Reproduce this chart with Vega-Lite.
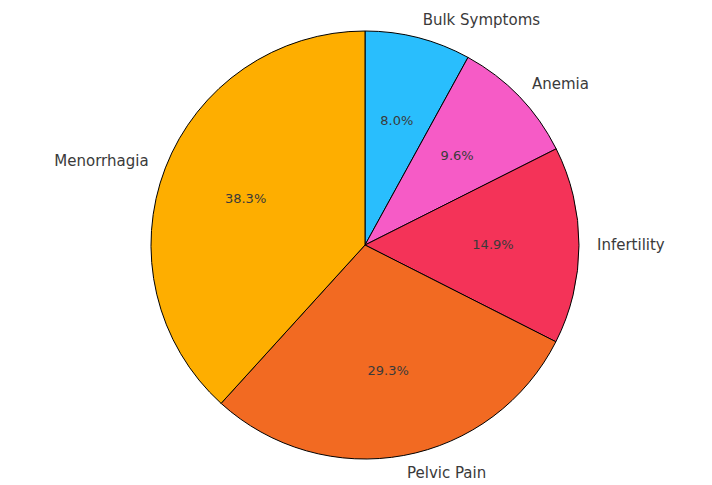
{
  "$schema": "https://vega.github.io/schema/vega-lite/v6.json",
  "width": 712,
  "height": 485,
  "autosize": {"type": "fit", "contains": "padding"},
  "padding": {"left": 18, "top": 5, "right": 0, "bottom": 0},
  "background": "white",
  "view": {"stroke": null},
  "data": {
    "values": [
      {"symptom": "Bulk Symptoms", "share": 0.080, "rank": 1},
      {"symptom": "Anemia", "share": 0.096, "rank": 2},
      {"symptom": "Infertility", "share": 0.149, "rank": 3},
      {"symptom": "Pelvic Pain", "share": 0.293, "rank": 4},
      {"symptom": "Menorrhagia", "share": 0.383, "rank": 5}
    ]
  },
  "encoding": {
    "theta": {"field": "share", "type": "quantitative", "stack": true},
    "order": {"field": "rank", "type": "quantitative"}
  },
  "layer": [
    {
      "mark": {"type": "arc", "outerRadius": 214, "stroke": "#000000", "strokeWidth": 1},
      "encoding": {
        "color": {
          "field": "symptom",
          "type": "nominal",
          "scale": {
            "domain": ["Bulk Symptoms", "Anemia", "Infertility", "Pelvic Pain", "Menorrhagia"],
            "range": ["#29BEFD", "#F65BC6", "#F43358", "#F26A22", "#FEAE00"]
          },
          "legend": null
        }
      }
    },
    {
      "mark": {"type": "text", "radius": 128, "font": "DejaVu Sans", "fontSize": 13, "fill": "#3a3a3a", "align": "center", "baseline": "middle"},
      "encoding": {
        "text": {"field": "share", "type": "quantitative", "format": ".1%"}
      }
    },
    {
      "mark": {"type": "text", "radius": 232, "font": "DejaVu Sans", "fontSize": 15, "fill": "#3a3a3a", "align": "left", "baseline": "middle"},
      "encoding": {
        "text": {"field": "symptom", "type": "nominal"},
        "opacity": {"condition": {"test": "datum.symptom === 'Menorrhagia'", "value": 0}, "value": 1}
      }
    },
    {
      "mark": {"type": "text", "radius": 232, "font": "DejaVu Sans", "fontSize": 15, "fill": "#3a3a3a", "align": "right", "baseline": "middle"},
      "encoding": {
        "text": {"field": "symptom", "type": "nominal"},
        "opacity": {"condition": {"test": "datum.symptom === 'Menorrhagia'", "value": 1}, "value": 0}
      }
    }
  ]
}
